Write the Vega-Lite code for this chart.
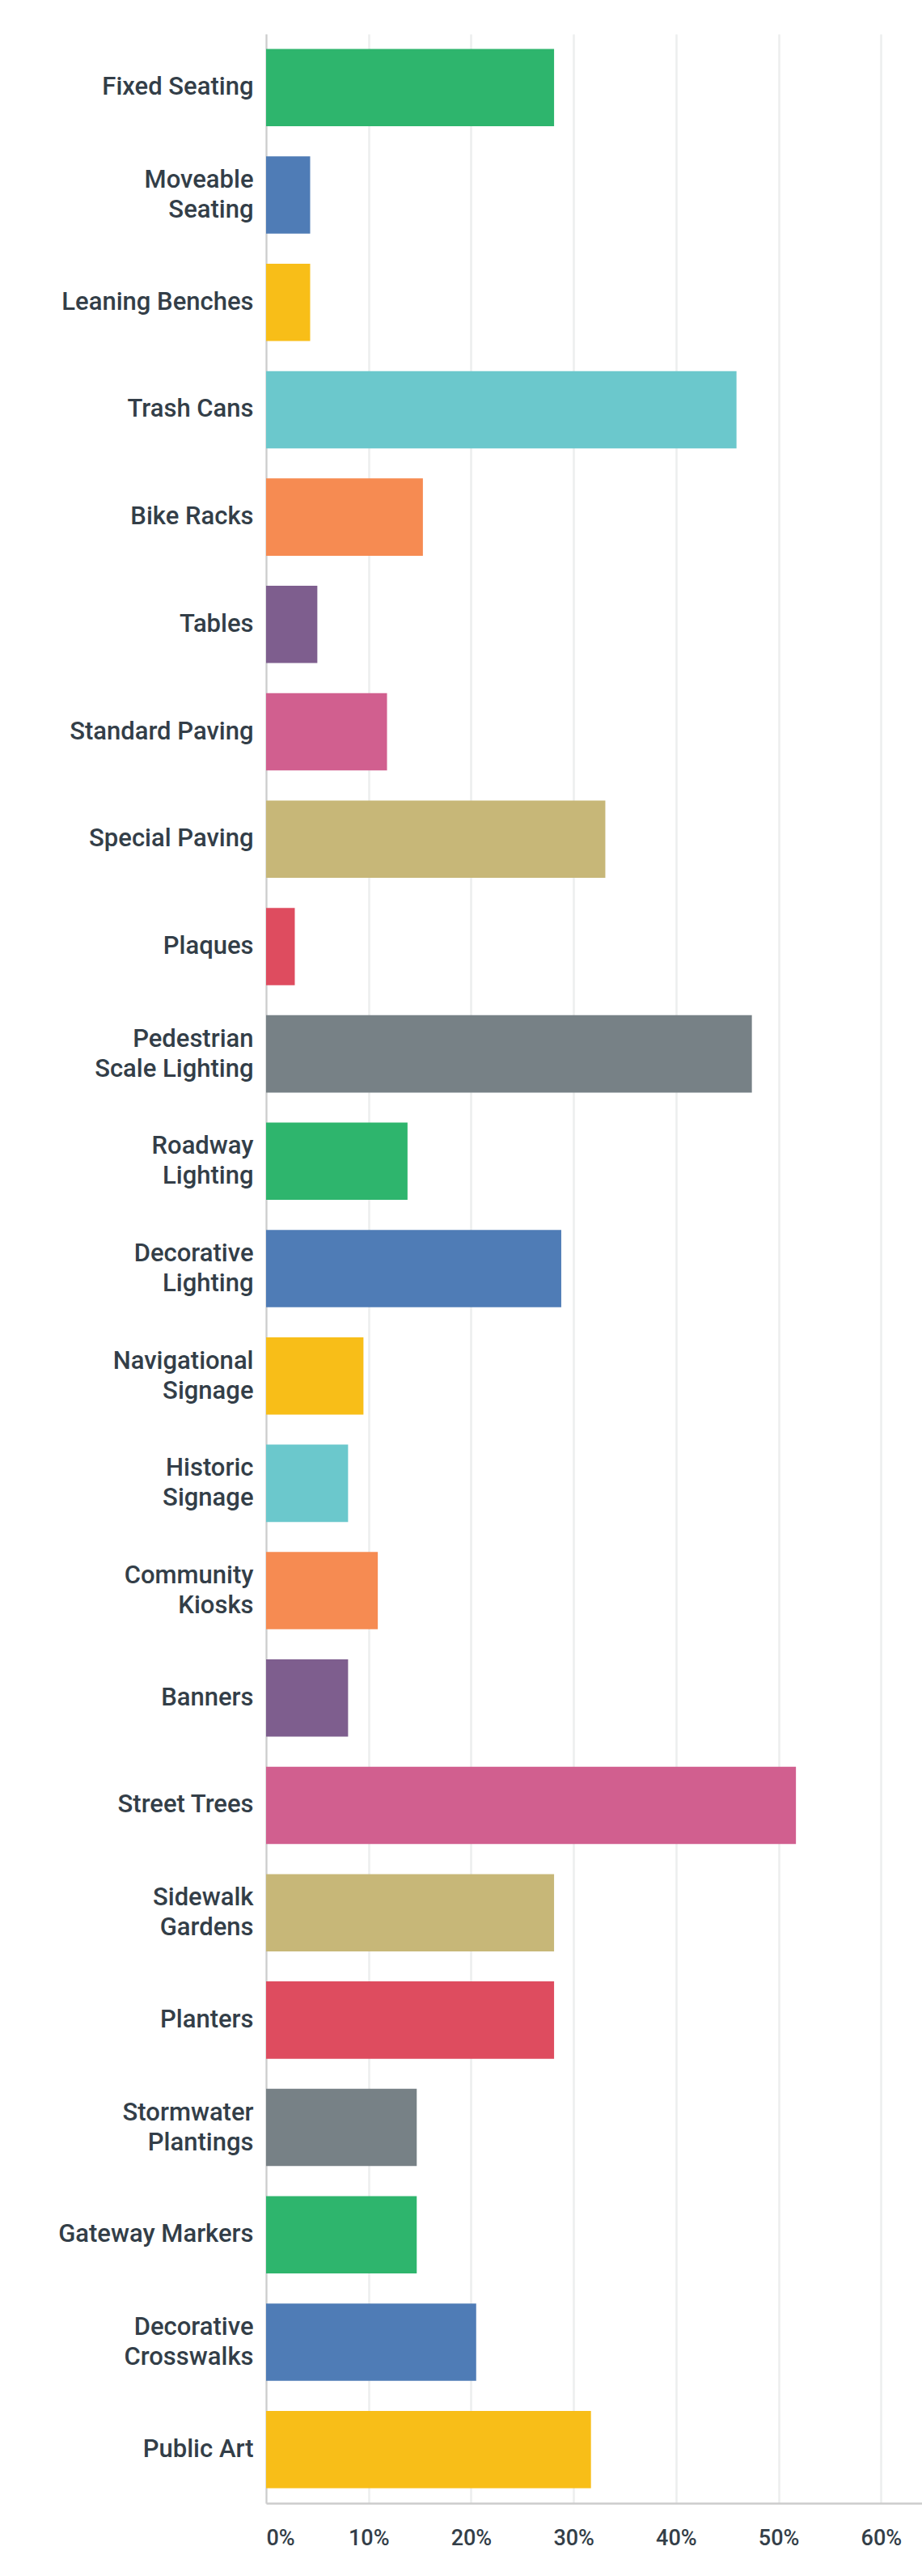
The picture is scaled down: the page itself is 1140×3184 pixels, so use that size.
{
  "$schema": "https://vega.github.io/schema/vega-lite/v6.json",
  "width": 811,
  "height": 3052,
  "autosize": {"type": "none"},
  "padding": {"left": 329, "top": 42, "right": 0, "bottom": 90},
  "background": "#ffffff",
  "config": {
    "view": {"stroke": null},
    "font": "Roboto"
  },
  "data": {
    "values": [
      {"label": "Fixed Seating", "pct": 28.1},
      {"label": "Moveable|Seating", "pct": 4.3},
      {"label": "Leaning Benches", "pct": 4.3},
      {"label": "Trash Cans", "pct": 45.9},
      {"label": "Bike Racks", "pct": 15.3},
      {"label": "Tables", "pct": 5.0},
      {"label": "Standard Paving", "pct": 11.8},
      {"label": "Special Paving", "pct": 33.1},
      {"label": "Plaques", "pct": 2.8},
      {"label": "Pedestrian|Scale Lighting", "pct": 47.4},
      {"label": "Roadway|Lighting", "pct": 13.8},
      {"label": "Decorative|Lighting", "pct": 28.8},
      {"label": "Navigational|Signage", "pct": 9.5},
      {"label": "Historic|Signage", "pct": 8.0},
      {"label": "Community|Kiosks", "pct": 10.9},
      {"label": "Banners", "pct": 8.0},
      {"label": "Street Trees", "pct": 51.7},
      {"label": "Sidewalk|Gardens", "pct": 28.1},
      {"label": "Planters", "pct": 28.1},
      {"label": "Stormwater|Plantings", "pct": 14.7},
      {"label": "Gateway Markers", "pct": 14.7},
      {"label": "Decorative|Crosswalks", "pct": 20.5},
      {"label": "Public Art", "pct": 31.7}
    ]
  },
  "mark": {"type": "bar"},
  "encoding": {
    "y": {
      "field": "label",
      "type": "nominal",
      "sort": null,
      "scale": {"paddingInner": 0.28, "paddingOuter": 0.14},
      "axis": {
        "title": null,
        "ticks": false,
        "grid": false,
        "domainColor": "#cccccc",
        "domainWidth": 2,
        "labelPadding": 16,
        "labelFont": "Roboto",
        "labelFontSize": 31,
        "labelFontWeight": 500,
        "labelColor": "#333e48",
        "labelLineHeight": 37,
        "labelLimit": 400,
        "labelExpr": "split(datum.value, '|')",
        "labelOffset": {"condition": {"test": "indexof(datum.value, '|') >= 0", "value": -18}, "value": 0}
      }
    },
    "x": {
      "field": "pct",
      "type": "quantitative",
      "scale": {"domain": [0, 64], "nice": false, "zero": true},
      "axis": {
        "title": null,
        "values": [0, 10, 20, 30, 40, 50, 60],
        "grid": true,
        "gridColor": "#eceeee",
        "gridWidth": 2.5,
        "ticks": false,
        "tickSize": 0,
        "domainColor": "#cccccc",
        "domainWidth": 2.5,
        "labelFont": "Roboto",
        "labelFontSize": 27,
        "labelFontWeight": 500,
        "labelColor": "#333e48",
        "labelPadding": 30,
        "labelFlush": true,
        "labelExpr": "datum.value + '%'"
      }
    },
    "color": {
      "field": "label",
      "type": "nominal",
      "legend": null,
      "scale": {
        "domain": ["Fixed Seating", "Moveable|Seating", "Leaning Benches", "Trash Cans", "Bike Racks", "Tables", "Standard Paving", "Special Paving", "Plaques", "Pedestrian|Scale Lighting", "Roadway|Lighting", "Decorative|Lighting", "Navigational|Signage", "Historic|Signage", "Community|Kiosks", "Banners", "Street Trees", "Sidewalk|Gardens", "Planters", "Stormwater|Plantings", "Gateway Markers", "Decorative|Crosswalks", "Public Art"],
        "range": ["#2eb56d", "#4f7cb6", "#f8be18", "#6bc8cc", "#f68b52", "#7e5e8e", "#d15f8f", "#c7b778", "#de4c5f", "#778186", "#2eb56d", "#4f7cb6", "#f8be18", "#6bc8cc", "#f68b52", "#7e5e8e", "#d15f8f", "#c7b778", "#de4c5f", "#778186", "#2eb56d", "#4f7cb6", "#f8be18"]
      }
    }
  }
}
